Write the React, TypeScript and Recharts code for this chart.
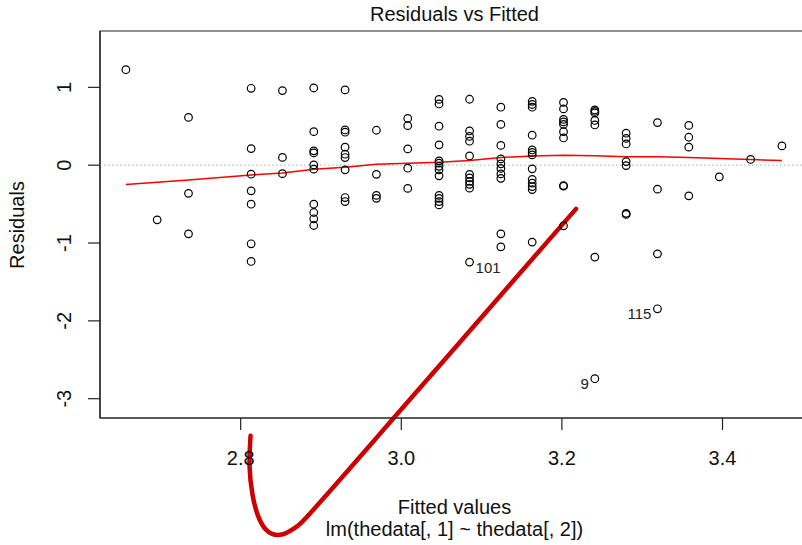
import { ComposedChart, Scatter, Line, XAxis, YAxis, ReferenceLine, ReferenceArea } from "recharts"

// fitted values (one column of points per level)
const fittedLevels = [
  2.657, 2.696, 2.735, 2.813, 2.852, 2.891, 2.93, 2.969, 3.008, 3.047, 3.085,
  3.124, 3.163, 3.202, 3.241, 3.28, 3.319, 3.358, 3.396, 3.435, 3.474,
]

// residuals at each fitted level (labelled outliers kept apart below)
const residualsByLevel = [
  [1.227],
  [-0.702],
  [0.614, -0.362, -0.882],
  [0.988, 0.213, -0.116, -0.33, -0.501, -1.01, -1.237],
  [0.958, 0.1, -0.109],
  [0.992, 0.431, 0.184, 0.158, 0.004, -0.051, -0.501, -0.608, -0.689, -0.775],
  [0.967, 0.453, 0.424, 0.231, 0.141, 0.098, -0.06, -0.416, -0.467],
  [0.449, -0.118, -0.388, -0.426],
  [0.601, 0.508, 0.209, -0.039, -0.298],
  [0.845, 0.787, 0.501, 0.261, 0.055, 0.026, -0.015, -0.06, -0.137, -0.388, -0.426, -0.467, -0.51],
  [0.847, 0.44, 0.37, 0.308, 0.119, -0.118, -0.163, -0.208, -0.246, -0.295],
  [0.745, 0.524, 0.254, 0.081, 0.017, -0.041, -0.112, -0.169, -0.882, -1.049],
  [0.82, 0.78, 0.745, 0.385, 0.196, 0.164, 0.132, -0.047, -0.182, -0.231, -0.275, -0.313, -0.988],
  [0.806, 0.723, 0.588, 0.556, 0.524, 0.431, 0.35, -0.262, -0.27, -0.779],
  [0.71, 0.691, 0.671, 0.575, 0.517, -1.181],
  [0.411, 0.344, 0.273, 0.046, -0.005, -0.619, -0.632],
  [0.547, -0.308, -1.139],
  [0.511, 0.359, 0.232, -0.394],
  [-0.15],
  [0.074],
  [0.248],
]

const outlierIds = ["101", "115", "9"]
const outlierFitted = [3.085, 3.319, 3.241]
const outlierResiduals = [-1.245, -1.845, -2.743]

// smoother (red line) read at each fitted level
const smoothValues = [
  -0.249, -0.218, -0.189, -0.125, -0.1, -0.051, -0.026, 0.013, 0.026, 0.039, 0.06,
  0.098, 0.119, 0.128, 0.12, 0.11, 0.107, 0.098, 0.085, 0.072, 0.059,
]

// hand-drawn red mark, in data units
const annotationX = [
  2.8123, 2.811, 2.8147, 2.8215, 2.8315, 2.8452, 2.8589, 2.8714, 2.8863, 2.9336,
  2.966, 2.9859, 3.0482, 3.103, 3.1379, 3.1728, 3.2176,
]
const annotationY = [
  -3.475, -3.86, -4.232, -4.502, -4.682, -4.752, -4.714, -4.63, -4.476, -3.923,
  -3.539, -3.303, -2.566, -1.918, -1.504, -1.091, -0.561,
]

const xTicks = [2.8, 3.0, 3.2, 3.4]
const yTicks = [-3, -2, -1, 0, 1]
const xDomain = [2.6248, 3.5077]
const yDomain = [-3.248, 1.724]

const points = [
  ...fittedLevels.flatMap((x, i) => residualsByLevel[i].map((y) => ({ x, y }))),
  ...outlierIds.map((id, i) => ({ x: outlierFitted[i], y: outlierResiduals[i], id })),
]
const smooth = fittedLevels.map((x, i) => ({ x, y: smoothValues[i] }))
const annotation = annotationX.map((x, i) => ({ x, y: annotationY[i] }))

const FONT = "'Liberation Sans', Arial, sans-serif"

function PointShape(props: any) {
  const { cx, cy, payload } = props
  if (cx == null || cy == null) return null
  const onLeft = payload && payload.x > 3.2
  return (
    <g>
      <circle cx={cx} cy={cy} r={3.8} fill="none" stroke="#000" strokeWidth={1.2} />
      {payload && payload.id && (
        <text
          x={onLeft ? cx - 6 : cx + 6}
          y={cy + 5}
          textAnchor={onLeft ? "end" : "start"}
          dominantBaseline="central"
          fontSize={15}
          fill="#222"
        >
          {payload.id}
        </text>
      )}
    </g>
  )
}

function XTick({ x, y, payload }: any) {
  return (
    <text x={x} y={y} textAnchor="middle" dominantBaseline="central" fontSize={20} fill="#111">
      {Number(payload.value).toFixed(1)}
    </text>
  )
}

function YTick({ x, y, payload }: any) {
  return (
    <text
      x={x}
      y={y}
      transform={`rotate(-90 ${x} ${y})`}
      textAnchor="middle"
      dominantBaseline="central"
      fontSize={20}
      fill="#111"
    >
      {payload.value}
    </text>
  )
}

const textBox = {
  position: "absolute" as const,
  left: 0,
  width: 909,
  textAlign: "center" as const,
  fontSize: 20,
  lineHeight: "20px",
  color: "#111",
}

export default function App() {
  return (
    <div
      style={{
        position: "absolute",
        left: 0,
        top: 0,
        width: 802,
        height: 545,
        overflow: "hidden",
        background: "#fff",
        fontFamily: FONT,
      }}
    >
      <style>{`.annotation, .annotation * { clip-path: none !important; }`}</style>
      <ComposedChart width={815} height={545} margin={{ top: 31, right: 6, bottom: 67, left: 0 }}>
        <XAxis
          type="number"
          dataKey="x"
          domain={xDomain}
          allowDataOverflow
          ticks={xTicks}
          interval={0}
          tickSize={12}
          tickMargin={28}
          tick={XTick}
          height={60}
          axisLine={{ stroke: "#222", strokeWidth: 1.2 }}
          tickLine={{ stroke: "#222", strokeWidth: 1.2 }}
        />
        <YAxis
          type="number"
          domain={yDomain}
          allowDataOverflow
          ticks={yTicks}
          interval={0}
          tickSize={12}
          tickMargin={24}
          tick={YTick}
          width={100}
          axisLine={{ stroke: "#222", strokeWidth: 1.2 }}
          tickLine={{ stroke: "#222", strokeWidth: 1.2 }}
        />
        <ReferenceArea
          x1={xDomain[0]}
          x2={xDomain[1]}
          y1={yDomain[0]}
          y2={yDomain[1]}
          fill="none"
          stroke="#222"
          strokeWidth={1.2}
        />
        <ReferenceLine y={0} stroke="#bebebe" strokeDasharray="1.5 2.5" strokeWidth={1.2} />
        <Line
          data={smooth}
          dataKey="y"
          type="linear"
          stroke="#ff0000"
          strokeWidth={1.5}
          dot={false}
          isAnimationActive={false}
        />
        <Scatter data={points} dataKey="y" shape={PointShape} isAnimationActive={false} />
        <Line
          className="annotation"
          data={annotation}
          dataKey="y"
          type="natural"
          stroke="#cc0000"
          strokeWidth={4.5}
          strokeLinecap="round"
          strokeLinejoin="round"
          dot={false}
          isAnimationActive={false}
        />
      </ComposedChart>
      <div style={{ ...textBox, top: 4 }}>Residuals vs Fitted</div>
      <div style={{ ...textBox, top: 497 }}>Fitted values</div>
      <div style={{ ...textBox, top: 519 }}>lm(thedata[, 1] ~ thedata[, 2])</div>
      <div
        style={{
          position: "absolute",
          left: 17 - 150,
          top: 224.5 - 10,
          width: 300,
          textAlign: "center",
          fontSize: 20,
          lineHeight: "20px",
          color: "#111",
          transform: "rotate(-90deg)",
        }}
      >
        Residuals
      </div>
    </div>
  )
}
